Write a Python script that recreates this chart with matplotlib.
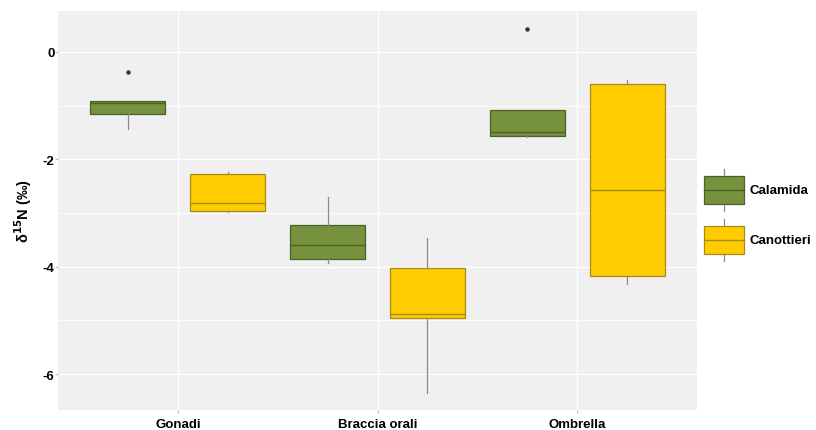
import matplotlib
matplotlib.use("Agg")
import matplotlib.pyplot as plt
from matplotlib.patches import Rectangle
from matplotlib.lines import Line2D
from matplotlib.legend_handler import HandlerBase
from matplotlib.ticker import MultipleLocator

plt.rcParams['font.family'] = ['Liberation Sans', 'DejaVu Sans']

# Tissue categories and groups
tissues = ["Gonadi", "Braccia orali", "Ombrella"]
groups = ["Calamida", "Canottieri"]

# Box statistics per group (one value per tissue), δ15N in ‰
cal_whislo = [-1.43, -3.94, -1.59]
cal_q1 = [-1.16, -3.86, -1.56]
cal_med = [-0.96, -3.60, -1.50]
cal_q3 = [-0.91, -3.22, -1.09]
cal_whishi = [-0.91, -2.71, -1.09]
cal_fliers = [[-0.37], [], [0.43]]

can_whislo = [-2.99, -6.36, -4.33]
can_q1 = [-2.96, -4.96, -4.18]
can_med = [-2.82, -4.89, -2.58]
can_q3 = [-2.28, -4.02, -0.60]
can_whishi = [-2.24, -3.46, -0.53]
can_fliers = [[], [], []]

y_ticks = [0, -2, -4, -6]

fills = {"Calamida": "#76923c", "Canottieri": "#ffcc00"}
edges = {"Calamida": "#4b6127", "Canottieri": "#a88a1c"}
whisker_col = "#8a8a8a"


def stats_for(whislo, q1, med, q3, whishi, fliers):
    return [dict(whislo=a, q1=b, med=c, q3=d, whishi=e, fliers=f)
            for a, b, c, d, e, f in zip(whislo, q1, med, q3, whishi, fliers)]


series = {
    "Calamida": stats_for(cal_whislo, cal_q1, cal_med, cal_q3, cal_whishi, cal_fliers),
    "Canottieri": stats_for(can_whislo, can_q1, can_med, can_q3, can_whishi, can_fliers),
}

fig = plt.figure(figsize=(8.16, 4.31), dpi=100)
ax = fig.add_axes([58 / 816, 1 - 411 / 431, (697 - 58) / 816, (411 - 12) / 431])
ax.set_facecolor("#f0f0f0")

offsets = {"Calamida": -0.25, "Canottieri": 0.25}
base = list(range(1, len(tissues) + 1))
for g in groups:
    pos = [b + offsets[g] for b in base]
    ax.bxp(series[g], positions=pos, widths=0.375, patch_artist=True,
           showcaps=False, manage_ticks=False,
           boxprops=dict(facecolor=fills[g], edgecolor=edges[g], linewidth=0.9),
           medianprops=dict(color=edges[g], linewidth=1.0),
           whiskerprops=dict(color=whisker_col, linewidth=0.9),
           flierprops=dict(marker="o", markersize=2.2, markerfacecolor="#333333",
                           markeredgecolor="#333333"),
           zorder=3)

ax.set_xlim(0.4, 3.6)
ax.set_ylim(-6.67, 0.76)
ax.set_xticks(base)
ax.set_xticklabels(tissues, fontsize=9.5, fontweight="bold")
ax.set_yticks(y_ticks)
ax.set_yticklabels([str(t) for t in y_ticks], fontsize=9.5, fontweight="bold")
ax.yaxis.set_minor_locator(MultipleLocator(1))
ax.grid(True, which="major", color="white", linewidth=1.0, zorder=0)
ax.grid(True, which="minor", axis="y", color="white", linewidth=0.6, zorder=0)
ax.set_axisbelow(True)
for s in ax.spines.values():
    s.set_visible(False)
ax.tick_params(axis="both", which="major", length=2, color="#bbbbbb")
ax.tick_params(axis="x", which="major", pad=4)
ax.tick_params(axis="y", which="major", pad=0.5)
ax.tick_params(axis="both", which="minor", length=0)
ax.set_ylabel("δ$^{\\mathbf{15}}$N (‰)", fontsize=10.5, fontweight="bold")
ax.yaxis.set_label_coords(-0.0376, 0.5)


class BoxKeyHandler(HandlerBase):
    def __init__(self, fill, edge):
        super().__init__()
        self.fill = fill
        self.edge = edge

    def create_artists(self, legend, orig_handle, xdescent, ydescent,
                       width, height, fontsize, trans):
        x0, y0 = -xdescent, -ydescent
        bh = height * 0.67
        by = y0 + (height - bh) / 2
        cx = x0 + width / 2
        top = Line2D([cx, cx], [by + bh, y0 + height], color=whisker_col, lw=0.9, transform=trans)
        bot = Line2D([cx, cx], [y0, by], color=whisker_col, lw=0.9, transform=trans)
        box = Rectangle((x0, by), width, bh, facecolor=self.fill, edgecolor=self.edge,
                        lw=0.9, transform=trans)
        med = Line2D([x0, x0 + width], [by + bh / 2, by + bh / 2], color=self.edge,
                     lw=1.0, transform=trans)
        return [top, bot, box, med]


handles = [Rectangle((0, 0), 1, 1) for _ in groups]
handler_map = {h: BoxKeyHandler(fills[g], edges[g]) for h, g in zip(handles, groups)}
leg = fig.legend(handles, groups, handler_map=handler_map,
                 loc="center left", bbox_to_anchor=(704 / 816, 1 - 216 / 431),
                 frameon=False, prop=dict(size=9.5, weight="bold"),
                 handlelength=3.0, handleheight=4.5, handletextpad=0.45,
                 labelspacing=0.6, borderaxespad=0, borderpad=0)

fig.savefig("out.png", dpi=100)
